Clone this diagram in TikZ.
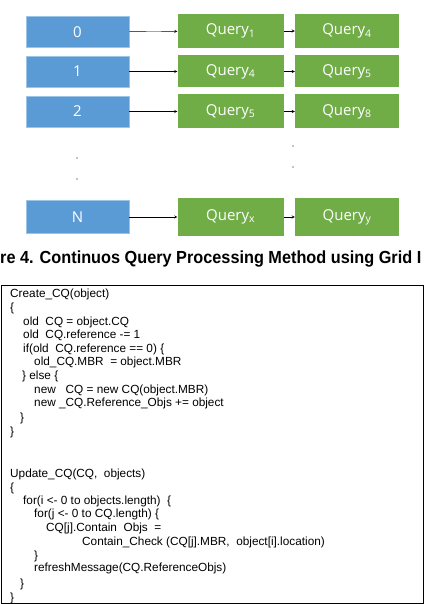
\documentclass[tikz,border=0pt]{standalone}
\usepackage{fontspec}
\setmainfont{Liberation Sans}
\newfontfamily\boxfont{Open Sans}
\newfontfamily\capfont[FakeStretch=0.93]{Liberation Sans}
\usetikzlibrary{positioning,arrows.meta}
\definecolor{cellblue}{HTML}{5B9BD5}
\definecolor{cellrim}{HTML}{9DC3E6}
\definecolor{querygreen}{HTML}{70AD47}
\newcommand{\qry}[1]{Query\textsubscript{#1}}
\begin{document}
\begin{tikzpicture}
         [x=1pt, y=-1pt, node distance=49pt,
          cell node/.style={rectangle, fill=cellblue, draw=cellrim, line width=0.8pt, minimum width=103pt, minimum height=31pt, inner sep=0pt, text=white, font=\boxfont\fontsize{15}{15}\selectfont},
          query node/.style={rectangle, fill=querygreen, minimum width=106pt, minimum height=34pt, inner sep=0pt, text=white, font=\boxfont\fontsize{15}{15}\selectfont},
          code line/.style={anchor=base west, inner sep=0pt, font=\fontsize{11.8}{12}\selectfont}]
         \useasboundingbox (0,0) rectangle (425,604);
         \clip (0,0) rectangle (425,604);
         % hash cells
         \node[cell node] (c0) at (77.5,32) {0};
         \node[cell node] (c1) at (77.5,71.5) {1};
         \node[cell node] (c2) at (77.5,111.5) {2};
         \node[cell node, minimum height=33pt] (cn) at (77.5,217) {N};
         % query lists
         \node[query node, right=48pt of c0, yshift=1pt] (q0a) {\qry{1}};
         \node[query node, right=11pt of q0a, minimum width=104pt] (q0b) {\qry{4}};
         \node[query node, right=48pt of c1, minimum height=32pt] (q1a) {\qry{4}};
         \node[query node, right=11pt of q1a, minimum width=104pt, minimum height=32pt] (q1b) {\qry{5}};
         \node[query node, right=48pt of c2] (q2a) {\qry{5}};
         \node[query node, right=11pt of q2a, minimum width=104pt] (q2b) {\qry{8}};
         \node[query node, right=48pt of cn, minimum height=38pt] (qna) {\qry{x}};
         \node[query node, right=11pt of qna, minimum width=104pt, minimum height=38pt] (qnb) {\qry{y}};
         
         \draw[-stealth] (c0) -- (q0a);
         \draw[-stealth] (c1) -- (q1a);
         \draw[-stealth] (c2) -- (q2a);
         \draw[-stealth] (cn) -- (qna);
         \draw[-stealth] (q0a) -- (q0b);
         \draw[-stealth] (q1a) -- (q1b);
         \draw[-stealth] (q2a) -- (q2b);
         \draw[-stealth] (qna) -- (qnb);
         
         % omitted rows
         \fill (77,158) circle (0.7);
         \fill (77,179) circle (0.7);
         \fill (293,146) circle (0.7);
         \fill (293,167) circle (0.7);
         
         \node[anchor=base west, inner sep=0pt, font=\capfont\bfseries\fontsize{17.5}{18}\selectfont] (cap) at (0,263) {re 4. Continuos Query Processing Method using Grid I};
         
         % pseudo code
         \draw[line width=0.8pt] (1,285) rectangle (423,603);
         \node[code line] (l1) at (10,297) {Create\_CQ(object)};
         \node[code line] (l2) at (10,311) {\{};
         \node[code line] (l3) at (23,325) {old\ \ CQ = object.CQ};
         \node[code line] (l4) at (23,338) {old\ \ CQ.reference -= 1};
         \node[code line] (l5) at (23,352) {if(old\ \ CQ.reference == 0) \{};
         \node[code line] (l6) at (34,365) {old\_CQ.MBR\ \ = object.MBR};
         \node[code line] (l7) at (22,379) {\} else \{};
         \node[code line] (l8) at (34,393) {new\ \ \ CQ = new CQ(object.MBR)};
         \node[code line] (l9) at (34,406) {new \_CQ.Reference\_Objs += object};
         \node[code line] (l10) at (20,421) {\}};
         \node[code line] (l11) at (10,435) {\}};
         \node[code line] (l12) at (10,477) {Update\_CQ(CQ,\ \ objects)};
         \node[code line] (l13) at (10,491) {\{};
         \node[code line] (l14) at (23,504) {for(i <- 0 to objects.length)\ \ \{};
         \node[code line] (l15) at (34,517) {for(j <- 0 to CQ.length) \{};
         \node[code line] (l16) at (46,531) {CQ[j].Contain\ \ Objs\ \ =};
         \node[code line] (l17) at (82,545) {Contain\_Check (CQ[j].MBR,\ \ object[i].location)};
         \node[code line] (l18) at (34,559) {\}};
         \node[code line] (l19) at (34,571) {refreshMessage(CQ.ReferenceObjs)};
         \node[code line] (l20) at (20,587) {\}};
         \node[code line] (l21) at (10,601) {\}};
      \end{tikzpicture}
\end{document}
